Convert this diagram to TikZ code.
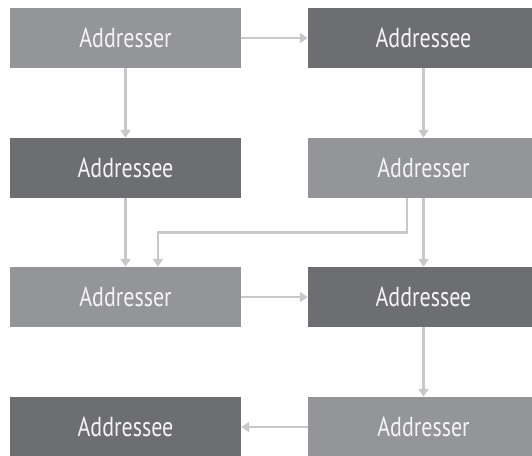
\documentclass[tikz,border=0pt]{standalone}
\usepackage{fontspec}
\newfontfamily\boxfont[FakeStretch=0.8]{PT Sans}
\usetikzlibrary{arrows.meta}
\definecolor{lightbox}{HTML}{939598}
\definecolor{darkbox}{HTML}{6D6E71}
\definecolor{arrowgray}{HTML}{C8C8CA}
\definecolor{boxtext}{HTML}{F4F4F4}
\tikzset{
  boxbase/.style={minimum width=231pt, minimum height=60pt, inner sep=0pt, text=boxtext,
    font=\boxfont\fontsize{27.5}{32}\selectfont},
  lightnode/.style={boxbase, fill=lightbox},
  darknode/.style={boxbase, fill=darkbox},
  arr/.style={draw=arrowgray, line width=2.6pt, -{Triangle[width=10pt,length=8pt]}}
}
\begin{document}
\begin{tikzpicture}[x=1pt,y=-1pt]
\useasboundingbox (0,0) rectangle (532,455);
\node[lightnode] (A1) at (125.5,38) {Addresser};
\node[darknode]  (B1) at (423.5,38) {Addressee};
\node[darknode]  (A2) at (125.5,168) {Addressee};
\node[lightnode] (B2) at (423.5,168) {Addresser};
\node[lightnode] (A3) at (125.5,297) {Addresser};
\node[darknode]  (B3) at (423.5,297) {Addressee};
\node[darknode]  (A4) at (125.5,427) {Addressee};
\node[lightnode] (B4) at (423.5,427) {Addresser};
\draw[arr] (A1) -- (B1);
\draw[arr] (A1) -- (A2);
\draw[arr] (B1) -- (B2);
\draw[arr] (A2) -- (A3);
\draw[arr] (B2) -- (B3);
\draw[arr] ([xshift=-16.5pt]B2.south) -- ++(0,34) -| ([xshift=32.5pt]A3.north);
\draw[arr] (A3) -- (B3);
\draw[arr] (B3) -- (B4);
\draw[arr] (B4) -- (A4);
\end{tikzpicture}
\end{document}
